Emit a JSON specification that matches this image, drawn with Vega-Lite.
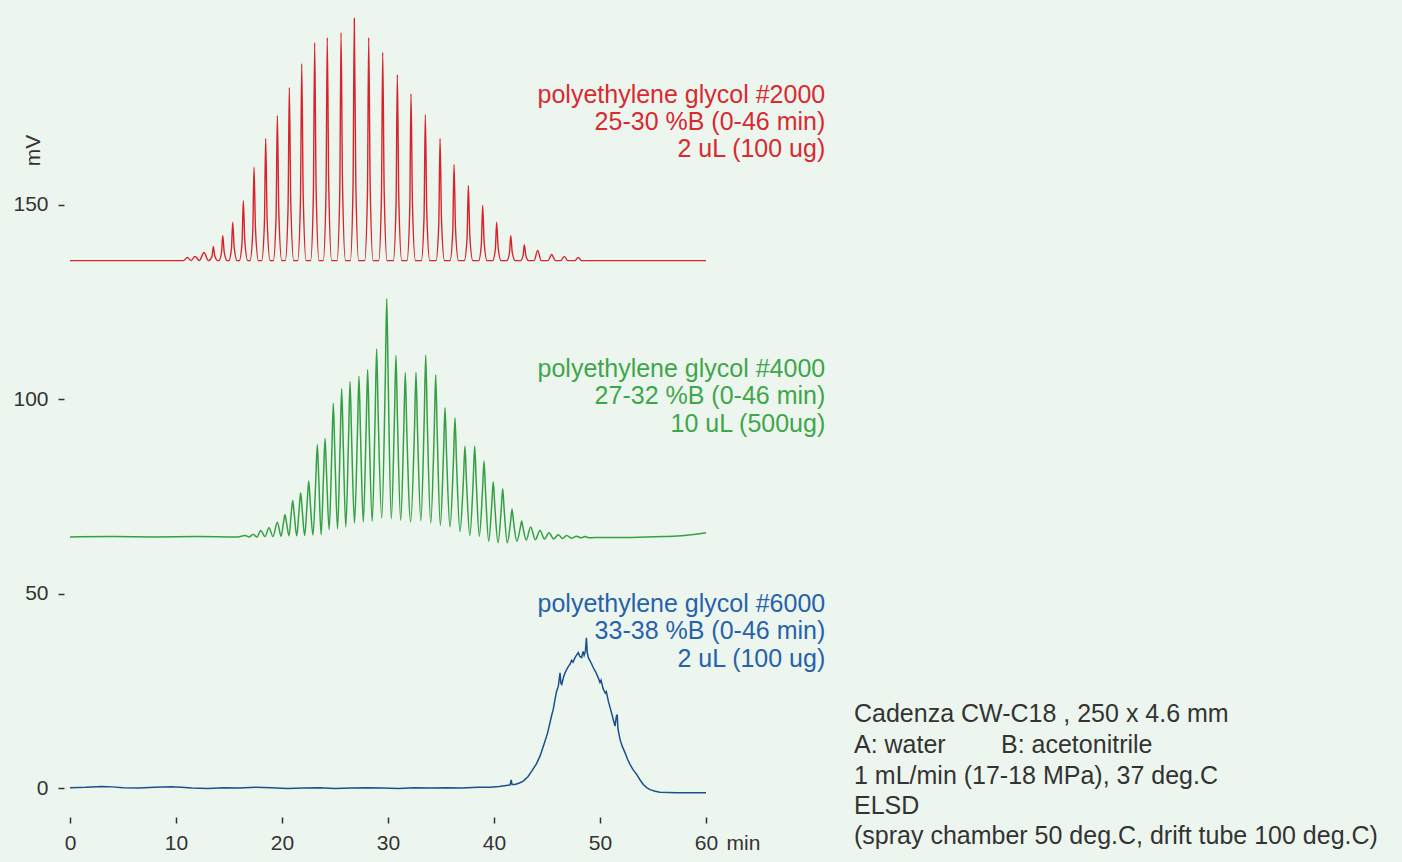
{
  "$schema": "https://vega.github.io/schema/vega-lite/v6.json",
  "width": 636,
  "height": 794,
  "autosize": {"type": "none"},
  "padding": {"left": 70, "top": 10, "right": 696, "bottom": 58},
  "background": "#edf6ee",
  "config": {"view": {"stroke": null}, "font": "Liberation Sans"},
  "datasets": {
    "red": [
      {"t":0,"v":135.6},{"t":10.7,"v":135.6},{"t":11.07,"v":136.4},{"t":11.43,"v":135.6},{"t":11.79,"v":136.7},{"t":12.2,"v":135.6},{"t":12.64,"v":137.7},{"t":13.05,"v":135.6},
      {"t":13.4,"v":136.7},{"t":13.52,"v":139.2},{"t":13.66,"v":136.8},{"t":13.95,"v":135.6},
      {"t":14.03,"v":135.6},{"t":14.29,"v":137.6},{"t":14.41,"v":142.0},{"t":14.55,"v":137.8},{"t":14.83,"v":135.6},
      {"t":14.97,"v":135.6},{"t":15.23,"v":138.6},{"t":15.35,"v":145.5},{"t":15.49,"v":139.0},{"t":15.77,"v":135.6},
      {"t":15.97,"v":135.6},{"t":16.23,"v":140.3},{"t":16.35,"v":151.0},{"t":16.49,"v":140.7},{"t":16.77,"v":135.6},
      {"t":16.98,"v":135.6},{"t":17.24,"v":142.9},{"t":17.36,"v":159.6},{"t":17.5,"v":143.6},{"t":17.78,"v":135.6},
      {"t":18.08,"v":135.6},{"t":18.34,"v":145.1},{"t":18.46,"v":167.0},{"t":18.6,"v":146.0},{"t":18.88,"v":135.6},
      {"t":19.18,"v":135.6},{"t":19.44,"v":146.9},{"t":19.56,"v":172.9},{"t":19.7,"v":148.0},{"t":19.98,"v":135.6},
      {"t":20.31,"v":135.6},{"t":20.57,"v":149.0},{"t":20.69,"v":180.1},{"t":20.83,"v":150.4},{"t":21.11,"v":135.6},
      {"t":21.48,"v":135.6},{"t":21.74,"v":150.9},{"t":21.86,"v":186.2},{"t":22.0,"v":152.4},{"t":22.28,"v":135.6},
      {"t":22.7,"v":135.6},{"t":22.96,"v":152.5},{"t":23.08,"v":191.6},{"t":23.22,"v":154.1},{"t":23.5,"v":135.6},
      {"t":23.89,"v":135.6},{"t":24.15,"v":152.9},{"t":24.27,"v":192.9},{"t":24.41,"v":154.6},{"t":24.69,"v":135.6},
      {"t":25.19,"v":135.6},{"t":25.45,"v":153.3},{"t":25.57,"v":194.2},{"t":25.71,"v":155.0},{"t":25.99,"v":135.6},
      {"t":26.44,"v":135.6},{"t":26.7,"v":154.3},{"t":26.82,"v":197.8},{"t":26.96,"v":156.2},{"t":27.24,"v":135.6},
      {"t":27.8,"v":135.6},{"t":28.06,"v":152.9},{"t":28.18,"v":192.9},{"t":28.32,"v":154.6},{"t":28.6,"v":135.6},
      {"t":29.12,"v":135.6},{"t":29.38,"v":151.7},{"t":29.5,"v":189.1},{"t":29.64,"v":153.3},{"t":29.92,"v":135.6},
      {"t":30.5,"v":135.6},{"t":30.76,"v":150.0},{"t":30.88,"v":183.4},{"t":31.02,"v":151.4},{"t":31.3,"v":135.6},
      {"t":31.79,"v":135.6},{"t":32.05,"v":148.5},{"t":32.17,"v":178.5},{"t":32.31,"v":149.8},{"t":32.59,"v":135.6},
      {"t":33.14,"v":135.6},{"t":33.4,"v":146.9},{"t":33.52,"v":173.1},{"t":33.66,"v":148.0},{"t":33.94,"v":135.6},
      {"t":34.53,"v":135.6},{"t":34.79,"v":145.1},{"t":34.91,"v":167.0},{"t":35.05,"v":146.0},{"t":35.33,"v":135.6},
      {"t":35.85,"v":135.6},{"t":36.11,"v":143.1},{"t":36.23,"v":160.3},{"t":36.37,"v":143.8},{"t":36.65,"v":135.6},
      {"t":37.2,"v":135.6},{"t":37.46,"v":141.5},{"t":37.58,"v":154.9},{"t":37.72,"v":142.0},{"t":38.0,"v":135.6},
      {"t":38.55,"v":135.6},{"t":38.81,"v":139.9},{"t":38.93,"v":149.8},{"t":39.07,"v":140.4},{"t":39.35,"v":135.6},
      {"t":39.87,"v":135.6},{"t":40.13,"v":138.6},{"t":40.25,"v":145.5},{"t":40.39,"v":139.0},{"t":40.67,"v":135.6},
      {"t":41.2,"v":135.6},{"t":41.46,"v":137.6},{"t":41.58,"v":142.0},{"t":41.72,"v":137.8},{"t":42.0,"v":135.6},
      {"t":42.5,"v":135.6},{"t":42.74,"v":136.9},{"t":42.86,"v":139.7},{"t":43.0,"v":137.0},{"t":43.26,"v":135.6},
      {"t":43.78,"v":135.6},{"t":44.12,"v":138.2},{"t":44.46,"v":135.6},
      {"t":45.1,"v":135.6},{"t":45.44,"v":137.2},{"t":45.78,"v":135.6},
      {"t":46.3,"v":135.6},{"t":46.63,"v":136.7},{"t":46.96,"v":135.6},
      {"t":47.62,"v":135.6},{"t":47.95,"v":136.4},{"t":48.28,"v":135.6},
      {"t":60,"v":135.6}
    ],
    "green": [
      {"t":0,"v":64.6},{"t":4,"v":64.7},{"t":8,"v":64.6},{"t":12,"v":64.7},{"t":15.8,"v":64.6},
      {"t":16.51,"v":65.0},{"t":16.89,"v":64.6},{"t":17.29,"v":65.3},{"t":17.64,"v":64.6},{"t":17.99,"v":66.3},{"t":18.4,"v":64.7},
      {"t":18.77,"v":67.0},{"t":19.15,"v":64.7},{"t":19.56,"v":68.4},{"t":19.91,"v":64.8},
      {"t":20.14,"v":68.3},{"t":20.28,"v":70.3},{"t":20.42,"v":68.3},{"t":20.66,"v":64.9},
      {"t":20.87,"v":70.6},{"t":21.01,"v":74.0},{"t":21.15,"v":70.6},{"t":21.39,"v":64.9},
      {"t":21.62,"v":71.8},{"t":21.76,"v":76.0},{"t":21.9,"v":71.8},{"t":22.14,"v":65.0},
      {"t":22.38,"v":73.7},{"t":22.52,"v":79.0},{"t":22.66,"v":73.7},{"t":22.92,"v":65.1},
      {"t":23.19,"v":79.5},{"t":23.33,"v":88.3},{"t":23.47,"v":79.5},{"t":23.69,"v":65.2},
      {"t":23.92,"v":80.5},{"t":24.06,"v":89.9},{"t":24.2,"v":81.0},{"t":24.45,"v":66.5},
      {"t":24.7,"v":86.6},{"t":24.84,"v":98.9},{"t":24.98,"v":86.7},{"t":25.24,"v":66.7},
      {"t":25.49,"v":89.0},{"t":25.63,"v":102.7},{"t":25.77,"v":89.2},{"t":26.02,"v":67.2},
      {"t":26.28,"v":90.3},{"t":26.42,"v":104.5},{"t":26.56,"v":90.7},{"t":26.84,"v":68.2},
      {"t":27.12,"v":91.6},{"t":27.26,"v":105.9},{"t":27.4,"v":91.7},{"t":27.67,"v":68.5},
      {"t":27.94,"v":92.7},{"t":28.08,"v":107.6},{"t":28.22,"v":92.8},{"t":28.51,"v":68.6},
      {"t":28.79,"v":96.1},{"t":28.93,"v":112.9},{"t":29.07,"v":96.4},{"t":29.41,"v":69.5},
      {"t":29.74,"v":104.5},{"t":29.88,"v":125.9},{"t":30.02,"v":104.4},{"t":30.31,"v":69.3},
      {"t":30.61,"v":95.3},{"t":30.75,"v":111.2},{"t":30.89,"v":95.1},{"t":31.2,"v":68.9},
      {"t":31.49,"v":92.4},{"t":31.63,"v":106.8},{"t":31.77,"v":92.2},{"t":32.14,"v":68.5},
      {"t":32.5,"v":92.3},{"t":32.64,"v":106.9},{"t":32.78,"v":92.4},{"t":33.1,"v":68.8},
      {"t":33.42,"v":95.2},{"t":33.56,"v":111.3},{"t":33.7,"v":94.9},{"t":34.03,"v":68.2},
      {"t":34.36,"v":91.8},{"t":34.5,"v":106.2},{"t":34.64,"v":91.5},{"t":34.94,"v":67.6},
      {"t":35.24,"v":86.3},{"t":35.38,"v":97.8},{"t":35.52,"v":86.2},{"t":35.85,"v":67.2},
      {"t":36.18,"v":84.6},{"t":36.32,"v":95.2},{"t":36.46,"v":84.1},{"t":36.79,"v":66.0},
      {"t":37.12,"v":79.6},{"t":37.26,"v":87.9},{"t":37.4,"v":79.2},{"t":37.72,"v":65.0},
      {"t":38.04,"v":79.2},{"t":38.18,"v":87.9},{"t":38.32,"v":79.1},{"t":38.61,"v":64.8},
      {"t":38.92,"v":76.8},{"t":39.06,"v":84.1},{"t":39.2,"v":76.3},{"t":39.5,"v":63.5},
      {"t":39.79,"v":73.0},{"t":39.93,"v":78.8},{"t":40.07,"v":72.8},{"t":40.38,"v":63.1},
      {"t":40.68,"v":71.6},{"t":40.82,"v":77.0},{"t":40.96,"v":71.6},{"t":41.25,"v":63.1},
      {"t":41.56,"v":68.4},{"t":41.7,"v":71.7},{"t":41.84,"v":68.6},{"t":42.15,"v":63.5},
      {"t":42.47,"v":66.8},{"t":42.61,"v":68.7},{"t":42.75,"v":66.8},{"t":43.04,"v":63.8},
      {"t":43.46,"v":67.2},{"t":43.9,"v":63.9},{"t":44.34,"v":66.3},{"t":44.76,"v":64.1},
      {"t":45.19,"v":65.7},{"t":45.63,"v":64.1},{"t":46.07,"v":65.2},{"t":46.46,"v":64.2},
      {"t":46.86,"v":65.0},{"t":47.33,"v":64.3},{"t":47.8,"v":64.8},{"t":48.2,"v":64.4},
      {"t":48.58,"v":64.7},{"t":49.0,"v":64.4},{"t":50,"v":64.5},{"t":53,"v":64.5},{"t":56,"v":64.7},{"t":58,"v":65.0},{"t":60,"v":65.7}
    ],
    "blue": [
      {"t":0,"v":0.2},{"t":1.5,"v":0.3},{"t":3,"v":0.5},{"t":4,"v":0.4},{"t":5,"v":0.2},{"t":6.5,"v":0.1},{"t":8,"v":0.3},{"t":9.5,"v":0.4},
      {"t":10.5,"v":0.3},{"t":11.5,"v":0.1},{"t":13,"v":0.0},{"t":14.5,"v":0.2},{"t":16,"v":0.1},{"t":17.5,"v":0.3},{"t":19,"v":0.2},
      {"t":20.5,"v":0.0},{"t":22,"v":0.1},{"t":23.5,"v":0.2},{"t":25,"v":0.0},{"t":26.5,"v":0.1},{"t":28,"v":0.2},{"t":29.5,"v":0.1},
      {"t":31,"v":0.0},{"t":32.5,"v":0.2},{"t":34,"v":0.1},{"t":35.5,"v":0.2},{"t":37,"v":0.1},{"t":38.5,"v":0.3},{"t":39.62,"v":0.33},
      {"t":40.5,"v":0.5},{"t":41.3,"v":0.8},{"t":41.51,"v":0.85},{"t":41.62,"v":2.2},{"t":41.7,"v":1.0},{"t":41.98,"v":1.03},
      {"t":42.4,"v":1.4},{"t":42.76,"v":1.88},{"t":43.2,"v":3.0},{"t":43.56,"v":4.44},{"t":44.0,"v":6.3},{"t":44.34,"v":8.3},
      {"t":44.6,"v":10.4},{"t":44.81,"v":12.15},{"t":45.05,"v":14.2},{"t":45.28,"v":16.88},{"t":45.45,"v":18.9},{"t":45.59,"v":20.29},
      {"t":45.75,"v":22.8},{"t":45.91,"v":24.99},{"t":46.07,"v":26.28},{"t":46.15,"v":28.0},{"t":46.23,"v":29.7},{"t":46.31,"v":27.0},
      {"t":46.39,"v":26.7},{"t":46.55,"v":28.5},{"t":46.7,"v":29.7},{"t":46.9,"v":30.8},{"t":47.05,"v":31.5},{"t":47.17,"v":31.9},
      {"t":47.32,"v":32.9},{"t":47.45,"v":32.4},{"t":47.64,"v":33.6},{"t":47.8,"v":34.3},{"t":47.95,"v":34.9},{"t":48.1,"v":33.9},
      {"t":48.27,"v":33.6},{"t":48.4,"v":35.2},{"t":48.5,"v":34.2},{"t":48.62,"v":35.2},{"t":48.72,"v":38.7},{"t":48.8,"v":34.9},
      {"t":48.9,"v":33.6},{"t":49.1,"v":32.6},{"t":49.37,"v":31.0},{"t":49.6,"v":29.9},{"t":49.84,"v":28.4},{"t":50.0,"v":27.2},
      {"t":50.1,"v":27.8},{"t":50.31,"v":25.5},{"t":50.5,"v":24.5},{"t":50.6,"v":24.9},{"t":50.78,"v":22.5},{"t":51.0,"v":20.3},
      {"t":51.25,"v":17.7},{"t":51.42,"v":16.0},{"t":51.55,"v":18.6},{"t":51.62,"v":19.0},{"t":51.7,"v":15.2},{"t":51.89,"v":12.6},
      {"t":52.1,"v":10.8},{"t":52.36,"v":9.2},{"t":52.6,"v":7.5},{"t":52.83,"v":6.2},{"t":53.1,"v":4.9},{"t":53.46,"v":3.6},
      {"t":53.8,"v":2.1},{"t":54.08,"v":1.0},{"t":54.4,"v":0.2},{"t":54.72,"v":-0.3},{"t":55.2,"v":-0.7},{"t":55.66,"v":-0.95},
      {"t":56.5,"v":-1.05},{"t":57.24,"v":-1.1},{"t":58.5,"v":-1.1},{"t":59.75,"v":-1.1},{"t":60,"v":-1.1}
    ],
    "labels": [
      {"s":"PEG 2000","t":71.25,"v":178.2,"label":"polyethylene glycol #2000"},
      {"s":"PEG 2000","t":71.25,"v":171.3,"label":"25-30 %B (0-46 min)"},
      {"s":"PEG 2000","t":71.25,"v":164.2,"label":"2 uL (100 ug)"},
      {"s":"PEG 4000","t":71.25,"v":107.8,"label":"polyethylene glycol #4000"},
      {"s":"PEG 4000","t":71.25,"v":100.9,"label":"27-32 %B (0-46 min)"},
      {"s":"PEG 4000","t":71.25,"v":93.7,"label":"10 uL (500ug)"},
      {"s":"PEG 6000","t":71.25,"v":47.3,"label":"polyethylene glycol #6000"},
      {"s":"PEG 6000","t":71.25,"v":40.4,"label":"33-38 %B (0-46 min)"},
      {"s":"PEG 6000","t":71.25,"v":33.3,"label":"2 uL (100 ug)"}
    ],
    "cond": [
      {"t":73.96,"v":19.0,"label":"Cadenza CW-C18 , 250 x 4.6 mm"},
      {"t":73.96,"v":11.05,"label":"A: water"},
      {"t":87.83,"v":11.05,"label":"B: acetonitrile"},
      {"t":73.96,"v":3.3,"label":"1 mL/min (17-18 MPa), 37 deg.C"},
      {"t":73.96,"v":-4.5,"label":"ELSD"},
      {"t":73.96,"v":-12.25,"label":"(spray chamber 50 deg.C, drift tube 100 deg.C)"}
    ]
  },
  "encoding": {
    "x": {
      "field": "t", "type": "quantitative",
      "scale": {"domain": [0, 60], "nice": false, "zero": false},
      "axis": {
        "values": [0, 10, 20, 30, 40, 50, 60], "title": "min",
        "titleX": 656, "titleY": 26, "titleAlign": "left", "titleBaseline": "middle", "titleAnchor": null,
        "titleFontWeight": "normal", "titleFontSize": 21, "titleColor": "#333333", "titleFont": "Liberation Sans",
        "offset": 13, "domain": false, "grid": false, "tickSize": 6, "tickWidth": 1.5, "tickColor": "#333333",
        "labelFontSize": 21, "labelColor": "#333333", "labelPadding": 9, "labelFlush": false, "labelFont": "Liberation Sans"
      }
    },
    "y": {
      "field": "v", "type": "quantitative",
      "scale": {"domain": [-4, 200], "nice": false, "zero": false},
      "axis": {
        "values": [0, 50, 100, 150], "title": "mV",
        "titleX": -31, "titleY": 140, "titleAngle": -90, "titleAlign": "center", "titleBaseline": "middle", "titleAnchor": null,
        "titleFontWeight": "normal", "titleFontSize": 21, "titleColor": "#333333", "titleFont": "Liberation Sans",
        "offset": 6, "domain": false, "grid": false, "tickSize": 6, "tickWidth": 1.5, "tickColor": "#333333",
        "labelFontSize": 21, "labelColor": "#333333", "labelPadding": 10, "labelFont": "Liberation Sans"
      }
    }
  },
  "layer": [
    {"data": {"name": "red"}, "mark": {"type": "line", "interpolate": "monotone", "color": "#d9232b", "strokeWidth": 1.4}},
    {"data": {"name": "green"}, "mark": {"type": "line", "interpolate": "monotone", "color": "#35a043", "strokeWidth": 1.5}},
    {"data": {"name": "blue"}, "mark": {"type": "line", "color": "#1d4f8e", "strokeWidth": 1.5}},
    {
      "data": {"name": "labels"},
      "mark": {"type": "text", "align": "right", "baseline": "middle", "fontSize": 25, "font": "Liberation Sans"},
      "encoding": {
        "text": {"field": "label"},
        "color": {"field": "s", "type": "nominal", "legend": null,
                  "scale": {"domain": ["PEG 2000", "PEG 4000", "PEG 6000"], "range": ["#d92a31", "#3ea64b", "#2762aa"]}}
      }
    },
    {
      "data": {"name": "cond"},
      "mark": {"type": "text", "align": "left", "baseline": "middle", "fontSize": 25, "font": "Liberation Sans", "color": "#333333"},
      "encoding": {"text": {"field": "label"}}
    }
  ]
}
